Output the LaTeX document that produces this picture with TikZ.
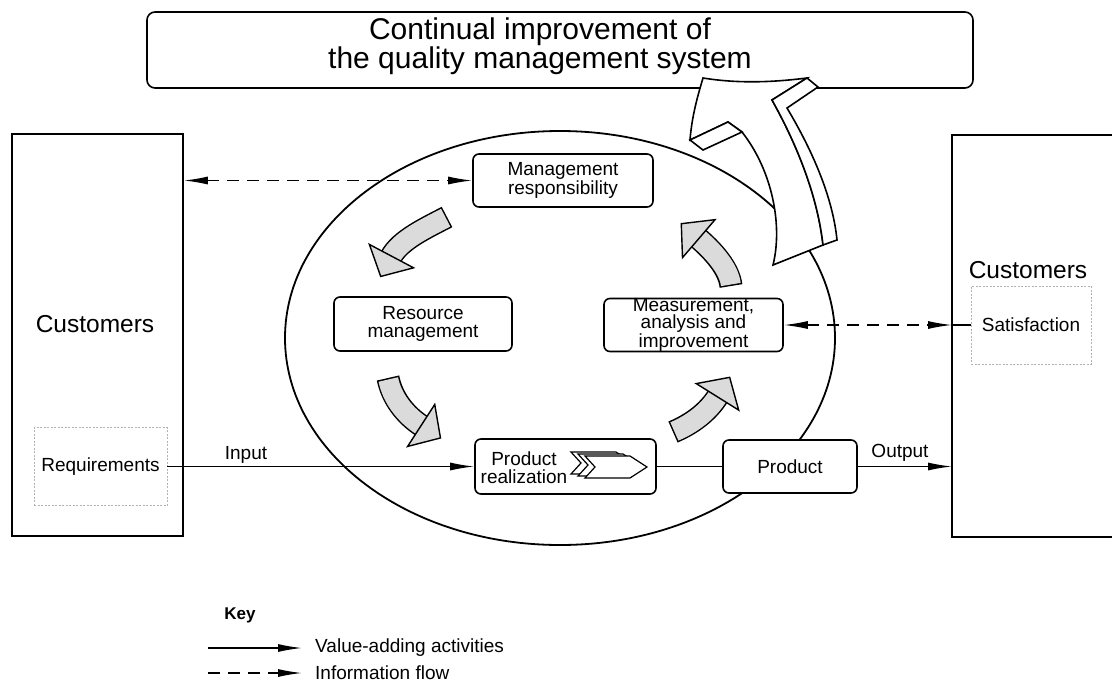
\documentclass[tikz,border=0pt]{standalone}
\usepackage{fontspec}
\setmainfont{Liberation Sans}
\usetikzlibrary{arrows.meta,decorations.markings}
\definecolor{agray}{gray}{0.86}
\newcommand{\cArrow}[4]{%
  \draw[line width=23pt, black] #1 .. controls #2 and #3 .. #4;
  \draw[line width=20pt, agray, shorten <=1.5pt] #1 .. controls #2 and #3 .. #4;
  \path[postaction={decorate,decoration={markings,mark=at position 1 with {\filldraw[line width=1.4pt,fill=agray,draw=black,line join=miter] (-1,-25) -- (22,0) -- (-1,25) -- cycle;}}}] #1 .. controls #2 and #3 .. #4;
}
\begin{document}
\begin{tikzpicture}[x=1pt,y=-1pt,
  box/.style={draw, line width=1.6pt, rounded corners=6pt, align=center, inner sep=0pt, fill=white,
              font=\fontsize{19}{17.5}\selectfont},
  lbl/.style={font=\fontsize{19}{21}\selectfont, inner sep=0pt},
  dbox/.style={draw=gray!60, dash pattern=on 2pt off 1.5pt, line width=0.8pt, inner sep=0pt,
              font=\fontsize{19}{21}\selectfont},
  flow/.style={line width=1.4pt, -{Latex[length=24pt,width=8pt]}},
  info/.style={line width=1.4pt, dash pattern=on 12pt off 8pt},
  infoboth/.style={info, {Latex[length=24pt,width=8pt]}-{Latex[length=24pt,width=8pt]}},
  infoone/.style={info, -{Latex[length=24pt,width=8pt]}},
  chev/.style={draw=black, line width=1.2pt, fill=white, line join=miter}
]
\useasboundingbox (0,0) rectangle (1112,683);

% title box
\node[draw, line width=1.6pt, rounded corners=8pt, minimum width=826pt, minimum height=76pt,
      inner sep=0pt] (title) at (560,50) {};
\node[align=center, font=\fontsize{30}{27}\selectfont, inner sep=0pt] (titletext) at (540,46.5)
      {Continual improvement of\\the quality management system};

% customers left
\node[draw, line width=1.6pt, minimum width=171pt, minimum height=402pt] (custL) at (97.5,335) {};
\node[font=\fontsize{24.5}{28}\selectfont, inner sep=0pt] (custLtext) at (95,324) {Customers};
\node[dbox, minimum width=133pt, minimum height=78pt] (req) at (100.5,466.5) {Requirements};

% customers right (open to the right)
\coordinate (custRtop) at (952,135);
\coordinate (custRbot) at (952,537);
\draw[line width=1.6pt] (1112,135) -- (custRtop) -- (custRbot) -- (1112,537);
\node[font=\fontsize{24.5}{28}\selectfont, inner sep=0pt] (custRtext) at (1028,270) {Customers};
\node[dbox, minimum width=120pt, minimum height=78pt] (sat) at (1031,325) {Satisfaction};

% ellipse
\draw[line width=1.8pt] (560,338) ellipse [x radius=275, y radius=207];

% process boxes
\node[box, minimum width=180pt, minimum height=53pt] (mgmt) at (563,180.5) {Management\\responsibility};
\node[box, minimum width=178pt, minimum height=54pt] (res) at (423,324) {Resource\\management};
\node[box, minimum width=179pt, minimum height=53pt, font=\fontsize{19}{17}\selectfont] (meas) at (693.5,325) {Measurement,\\analysis and\\improvement};
\node[box, minimum width=181pt, minimum height=55pt] (pr) at (565.5,466.5) {};
\node[font=\fontsize{19}{18}\selectfont, align=center, inner sep=0pt] (prtext) at (524,468) {Product\\realization};
\node[box, minimum width=134pt, minimum height=53pt] (prod) at (790,466.5) {Product};

% chevrons in product realization
\foreach \dx/\dy in {-14/-4,-7/-2,0/0}{
  \filldraw[chev, shift={(\dx,\dy)}] (585,456) -- (630,456) -- (647,467) -- (630,478) -- (585,478) -- (595,467) -- cycle;
}

% connectors
\draw[flow] (req.east) -- (pr.west);
\node[lbl] (inputlbl) at (246,455) {Input};
\draw[line width=1.4pt] (pr.east) -- (prod.west);
\coordinate (outEnd) at (952,466.5);
\draw[flow] (prod.east) -- (outEnd);
\node[lbl] (outputlbl) at (900,453) {Output};
\draw[infoboth] (custL.east |- mgmt.west) -- (mgmt.west);
\draw[infoboth] (meas.east) -- (meas.east -| custRtop);
\draw[line width=1.2pt] (meas.east -| custRtop) -- (sat.west);

% curved block arrows
\cArrow{(447,217)}{(426,228)}{(400,240)}{(391,257)}
\cArrow{(731,286)}{(729,268)}{(712,250)}{(698,238)}
\cArrow{(388,378)}{(392,398)}{(405,415)}{(422,426)}
\cArrow{(673,432)}{(692,424)}{(708,412)}{(718,396)}

% big arrow towards title
\filldraw[line width=1.6pt, fill=white, line join=miter]
  (703,78) .. controls (740,84) and (775,82) .. (807,78) -- (772,100)
  .. controls (800,150) and (818,200) .. (823,245) -- (773,265)
  .. controls (783,225) and (772,170) .. (742,132) -- (728,122) -- (690,140)
  .. controls (692,115) and (698,95) .. (703,78) -- cycle;
\filldraw[line width=1.6pt, fill=white, line join=miter]
  (807,78) -- (818,87) -- (787,108) .. controls (815,155) and (833,200) .. (837,240) -- (823,245)
  .. controls (818,200) and (800,150) .. (772,100) -- cycle;
\filldraw[line width=1.6pt, fill=white, line join=miter] (690,140) -- (703,150) -- (742,132) -- (728,122) -- cycle;

% key
\node[font=\bfseries\fontsize{17}{20}\selectfont, inner sep=0pt] (key) at (240,615) {Key};
\coordinate (k1a) at (208,648); \coordinate (k1b) at (302,648);
\coordinate (k2a) at (208,673); \coordinate (k2b) at (302,673);
\draw[flow] (k1a) -- (k1b);
\draw[infoone] (k2a) -- (k2b);
\node[lbl, anchor=west] (k1t) at (315,648) {Value-adding activities};
\node[lbl, anchor=west] (k2t) at (315,673) {Information flow};
\end{tikzpicture}
\end{document}
